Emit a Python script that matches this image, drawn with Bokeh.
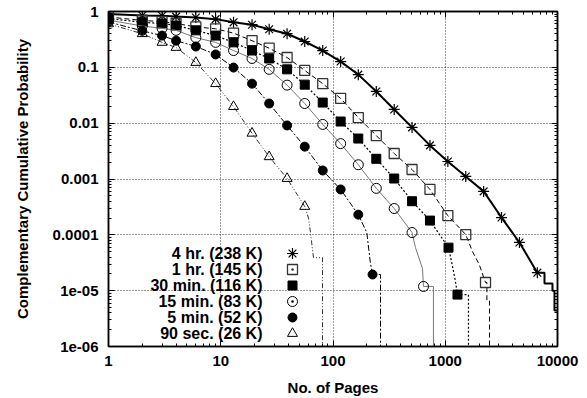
from bokeh.plotting import figure
from bokeh.models import FixedTicker, CustomJSTickFormatter, LogAxis
from bokeh.core.properties import value
from bokeh.embed import file_html
from bokeh.resources import INLINE

# ---------------- data ----------------
x_ticks = [1, 10, 100, 1000, 10000]
x_tick_labels = ["1", "10", "100", "1000", "10000"]
y_ticks = [1e-6, 1e-5, 1e-4, 1e-3, 1e-2, 1e-1, 1]
y_tick_labels = ["1e-06", "1e-05", "0.0001", "0.001", "0.01", "0.1", "1"]

series_labels = ["4 hr. (238 K)", "1 hr. (145 K)", "30 min. (116 K)",
                 "15 min. (83 K)", "5 min. (52 K)", "90 sec. (26 K)"]

FLOOR = 1e-9  # probability drops to zero (below the log axis)

# 4 hr.
hr4_x = [1, 2, 3, 4, 6, 9, 13, 19, 27, 39, 56, 81, 117, 168, 243, 351, 506, 731,
         1055, 1523, 2198, 3173, 4580, 6612]
hr4_y = [0.9, 0.85, 0.84, 0.81, 0.78, 0.73, 0.64, 0.58, 0.48, 0.40, 0.29, 0.20,
         0.127, 0.074, 0.037, 0.0176, 0.0084, 0.0040, 0.00206, 0.00111, 0.0006,
         0.000204, 7.3e-5, 2.1e-5]
hr4_tail_x = [7660, 7660, 9020, 9020, 9400, 9400, 12000]
hr4_tail_y = [2.1e-5, 1.34e-5, 1.34e-5, 1.0e-5, 1.0e-5, 4.4e-6, 4.4e-6]

# 1 hr.
hr1_x = [1, 2, 3, 4, 6, 9, 13, 19, 27, 39, 56, 81, 117, 168, 243, 351, 506, 731,
         1055, 1523, 2284]
hr1_y = [0.8, 0.69, 0.66, 0.61, 0.53, 0.49, 0.41, 0.30, 0.22, 0.15, 0.088, 0.051,
         0.0277, 0.0126, 0.006, 0.00286, 0.00148, 0.00065, 0.00022, 0.000101, 1.4e-5]
hr1_tail_x = [1750, 2000, 2350, 2350, 2480, 2480]
hr1_tail_y = [5e-5, 3e-5, 1.4e-5, 6.6e-6, 6.6e-6, FLOOR]

# 30 min.
m30_x = [1, 2, 3, 4, 6, 9, 13, 19, 27, 39, 56, 81, 117, 168, 243, 351, 506, 731,
         1069, 1285]
m30_y = [0.75, 0.64, 0.61, 0.56, 0.46, 0.37, 0.28, 0.20, 0.144, 0.092, 0.049,
         0.0234, 0.0107, 0.0053, 0.0023, 0.00102, 0.0004, 0.00018, 5.9e-5, 8.5e-6]
m30_tail_x = [1150, 1230, 1610, 1610]
m30_tail_y = [3e-5, 1.5e-5, 8.5e-6, FLOOR]

# 15 min.
m15_x = [1, 2, 3, 4, 6, 9, 13, 19, 27, 39, 56, 81, 117, 168, 243, 351, 506, 640]
m15_y = [0.7, 0.55, 0.50, 0.46, 0.34, 0.28, 0.20, 0.144, 0.092, 0.048, 0.0225,
         0.0095, 0.0043, 0.0018, 0.00068, 0.000296, 0.00011, 1.19e-5]
m15_tail_x = [543, 627, 785, 785]
m15_tail_y = [5.9e-5, 2.5e-5, 1.19e-5, FLOOR]

# 5 min.
m5_x = [1, 2, 3, 4, 6, 9, 13, 19, 27, 39, 56, 81, 117, 168, 225]
m5_y = [0.65, 0.45, 0.37, 0.30, 0.236, 0.17, 0.099, 0.051, 0.0225, 0.0091,
        0.0038, 0.00142, 0.00065, 0.00023, 1.95e-5]
m5_tail_x = [200, 215, 265, 265]
m5_tail_y = [1.1e-4, 3.2e-5, 1.95e-5, FLOOR]

# 90 sec.
s90_x = [1, 2, 3, 4, 6, 9, 13, 19, 27, 39, 56]
s90_y = [0.6, 0.40, 0.28, 0.227, 0.122, 0.051, 0.0198, 0.0066, 0.0025, 0.00102,
         0.000322]
s90_tail_x = [60.5, 63, 67, 80.6, 80.6]
s90_tail_y = [2.0e-4, 1.1e-4, 3.9e-5, 3.9e-5, FLOOR]

series = [
    (hr4_x, hr4_y, hr4_tail_x, hr4_tail_y),
    (hr1_x, hr1_y, hr1_tail_x, hr1_tail_y),
    (m30_x, m30_y, m30_tail_x, m30_tail_y),
    (m15_x, m15_y, m15_tail_x, m15_tail_y),
    (m5_x, m5_y, m5_tail_x, m5_tail_y),
    (s90_x, s90_y, s90_tail_x, s90_tail_y),
]

# ---------------- styles ----------------
FONT = "Liberation Sans"
line_styles = [
    dict(line_color="black", line_width=2, line_dash="solid"),
    dict(line_color="black", line_width=1, line_dash="5 3"),
    dict(line_color="black", line_width=1.2, line_dash="2 2"),
    dict(line_color="#777777", line_width=1, line_dash="solid"),
    dict(line_color="black", line_width=1, line_dash="6 2 2 2"),
    dict(line_color="#333333", line_width=1, line_dash="5 2 1 2 1 2"),
]
marker_styles = [
    dict(marker="asterisk", size=11, line_color="black", line_width=1.2, fill_color=None),
    dict(marker="square", size=10, line_color="#333333", line_width=1.3, fill_color=None),
    dict(marker="square", size=9, line_color="black", line_width=1, fill_color="black"),
    dict(marker="circle", size=10, line_color="black", line_width=1, fill_color=None),
    dict(marker="circle", size=9, line_color="black", line_width=1, fill_color="black"),
    dict(marker="triangle", size=10, line_color="black", line_width=1, fill_color=None),
]
legend_markers = ["asterisk", "square_dot", "square", "circle_dot", "circle", "triangle"]

# ---------------- figure ----------------
FL, FR, FT, FB = 108, 557, 11, 346
p = figure(frame_width=FR - FL, frame_height=FB - FT,
           min_border_left=FL, min_border_right=587 - FR,
           min_border_top=FT, min_border_bottom=398 - FB,
           x_axis_type="log", y_axis_type="log",
           x_range=(1, 10000), y_range=(1e-6, 1),
           output_backend="svg", toolbar_location=None,
           background_fill_color="white", border_fill_color="white")

p.outline_line_color = "black"
p.outline_line_width = 1.5

x_minor = [d * m for d in x_ticks[:-1] for m in range(2, 10)]
y_minor = [d * m for d in y_ticks[:-1] for m in range(2, 10)]
xticker = FixedTicker(ticks=x_ticks, minor_ticks=x_minor)
yticker = FixedTicker(ticks=y_ticks, minor_ticks=y_minor)

fmt_code = """
for (let i = 0; i < vals.length; i++) {
  if (Math.abs(Math.log10(vals[i]) - Math.log10(tick)) < 1e-6) return labels[i];
}
return "";
"""
xfmt = CustomJSTickFormatter(args=dict(vals=x_ticks, labels=x_tick_labels), code=fmt_code)
yfmt = CustomJSTickFormatter(args=dict(vals=y_ticks, labels=y_tick_labels), code=fmt_code)

for ax, tk, fm in ((p.xaxis[0], xticker, xfmt), (p.yaxis[0], yticker, yfmt)):
    ax.ticker = tk
    ax.formatter = fm
    ax.major_tick_in = 6
    ax.major_tick_out = 0
    ax.minor_tick_in = 3
    ax.minor_tick_out = 0
    ax.axis_line_width = 1.5
    ax.major_label_text_font = FONT
    ax.major_label_text_font_style = "bold"
    ax.major_label_text_font_size = "15px"
    ax.major_label_text_color = "black"
    ax.axis_label_text_font = FONT
    ax.axis_label_text_font_style = "bold"
    ax.axis_label_text_font_size = "15px"
    ax.axis_label_text_color = "black"

p.xaxis.axis_label = "No. of Pages"
p.yaxis.axis_label = "Complementary Cumulative Probability"
p.xaxis.major_label_standoff = 9
p.yaxis.major_label_standoff = 10
p.xaxis.axis_label_standoff = 10
p.yaxis.axis_label_standoff = 19

# mirrored ticks on top and right (labels invisible)
for loc, tk in (("above", xticker), ("right", yticker)):
    ax = LogAxis(ticker=tk, major_tick_in=6, major_tick_out=0,
                 minor_tick_in=3, minor_tick_out=0, axis_line_width=1.5,
                 major_label_text_font_size="2px", major_label_text_alpha=0,
                 major_label_standoff=0)
    p.add_layout(ax, loc)

for g in (p.xgrid[0], p.ygrid[0]):
    g.grid_line_color = "#333333"
    g.grid_line_dash = "1 2"
    g.grid_line_width = 1
p.xgrid[0].ticker = xticker
p.ygrid[0].ticker = yticker

# curves
for (mx, my, tx, ty), ls, ms in zip(series, line_styles, marker_styles):
    pts = sorted(list(zip(mx, my)) + list(zip(tx, ty)), key=lambda t: (t[0], -t[1]))
    p.line([t[0] for t in pts], [t[1] for t in pts], **ls)
    p.scatter(mx, my, **ms)

# legend (text right-aligned, symbol to the right), placed inside lower left
def px_to_x(px):
    return 10 ** (4 * (px - FL) / (FR - FL))

def py_to_y(py):
    return 10 ** (-6 * (py - FT) / (FB - FT))

rows_y = [py_to_y(253 + 16 * i) for i in range(len(series_labels))]
p.text([px_to_x(262)] * len(series_labels), rows_y, text=series_labels,
       text_align="right", text_baseline="middle",
       text_font=value(FONT), text_font_style="bold", text_font_size="16px",
       text_color="black")
for i, ms in enumerate(marker_styles):
    st = dict(ms)
    st["marker"] = legend_markers[i]
    p.scatter([px_to_x(292)], [rows_y[i]], **st)

open("out.html", "w").write(file_html(p, INLINE))
